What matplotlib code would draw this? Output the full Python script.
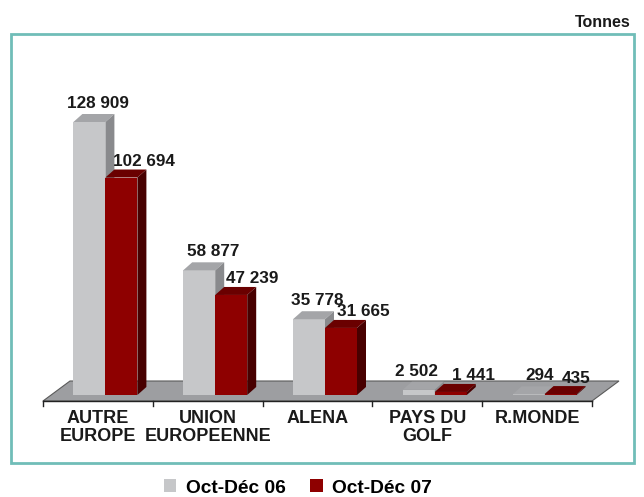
import matplotlib
matplotlib.use('Agg')
import matplotlib.pyplot as plt
from matplotlib.patches import Polygon, Rectangle, Patch
from matplotlib.lines import Line2D

plt.rcParams['font.family'] = ['Liberation Sans', 'DejaVu Sans']
plt.rcParams['font.weight'] = 'bold'

categories = ['AUTRE\nEUROPE', 'UNION\nEUROPEENNE', 'ALENA', 'PAYS DU\nGOLF', 'R.MONDE']
oct_dec_06 = [128909, 58877, 35778, 2502, 294]
oct_dec_07 = [102694, 47239, 31665, 1441, 435]
series_names = ['Oct-Déc 06', 'Oct-Déc 07']
unit = 'Tonnes'

# horizontal nudges of the value labels (pixels), as placed in the original
nudge_06 = [9, 14, 8, -2, 11]
nudge_07 = [23, 21, 22, 23, 16]

def fmt(v):
    return '{:,}'.format(v).replace(',', ' ')

# colours: front, top, side
gray = ('#c6c7c9', '#a4a5a8', '#898a8d')
red = ('#8e0000', '#6a0000', '#480000')
teal = '#70bdb8'
txt = '#1a1a1a'

W, H = 644, 497
fig = plt.figure(figsize=(W / 100, H / 100), dpi=100)

# axes: x -0.5..4.5 -> px 43..592 ; y 0 -> px 395 from top
ymax = 140000
px_per_val = 273 / 128909
ax_h = ymax * px_per_val
ax = fig.add_axes([43 / W, (H - 395) / H, 549 / W, ax_h / H])
ax.set_xlim(-0.5, 4.5)
ax.set_ylim(0, ymax)
ax.axis('off')

px_x = 549 / 5.0
def dxu(px):
    return px / px_x
def dyu(px):
    return px / px_per_val

# floor
fy0 = -dyu(6)
fdx, fdy = dxu(27), dyu(20)
floor = Polygon([(-0.5, fy0), (4.5, fy0), (4.5 + fdx, fy0 + fdy), (-0.5 + fdx, fy0 + fdy)],
                closed=True, facecolor='#9d9ea1', edgecolor='#5a5a5a', linewidth=0.8, clip_on=False)
ax.add_patch(floor)
ax.add_line(Line2D([-0.5, 4.5], [fy0, fy0], color='#222222', linewidth=1.0, clip_on=False))
for k in range(6):
    ax.add_line(Line2D([k - 0.5, k - 0.5], [fy0, fy0 - dyu(5)], color='#222222', linewidth=1.0, clip_on=False))

bw = dxu(32)
shift = dxu(7.5)
ddx, ddy = dxu(9), dyu(8)

def bar3d(x0, v, cols):
    x1 = x0 + bw
    front = Polygon([(x0, 0), (x1, 0), (x1, v), (x0, v)], closed=True, facecolor=cols[0],
                    edgecolor='none', clip_on=False)
    top = Polygon([(x0, v), (x1, v), (x1 + ddx, v + ddy), (x0 + ddx, v + ddy)], closed=True,
                  facecolor=cols[1], edgecolor='none', clip_on=False)
    side = Polygon([(x1, 0), (x1 + ddx, ddy), (x1 + ddx, v + ddy), (x1, v)], closed=True,
                   facecolor=cols[2], edgecolor='none', clip_on=False)
    for p in (front, top, side):
        ax.add_patch(p)

for i in range(len(categories)):
    g0 = i + shift - bw
    r0 = i + shift
    bar3d(g0, oct_dec_06[i], gray)
    bar3d(r0, oct_dec_07[i], red)
    ax.annotate(fmt(oct_dec_06[i]), xy=(g0 + bw / 2, oct_dec_06[i] + ddy),
                xytext=(nudge_06[i] * 0.72, 6 * 0.72),
                textcoords='offset points', ha='center', va='baseline', fontsize=12.3,
                color=txt, fontweight='bold', annotation_clip=False)
    ax.annotate(fmt(oct_dec_07[i]), xy=(r0 + bw / 2, oct_dec_07[i] + ddy),
                xytext=(nudge_07[i] * 0.72, 3.5 * 0.72),
                textcoords='offset points', ha='center', va='baseline', fontsize=12.3,
                color=txt, fontweight='bold', annotation_clip=False)
    ax.annotate(categories[i], xy=(i, fy0), xytext=(0, -9 * 0.72), textcoords='offset points',
                ha='center', va='top', fontsize=13, color=txt, fontweight='bold',
                linespacing=1.05, annotation_clip=False)

# frame
fig.patches.append(Rectangle((11 / W, (H - 463) / H), 623 / W, 429 / H, transform=fig.transFigure,
                             fill=False, edgecolor=teal, linewidth=2.0))
fig.text(631 / W, 1 - 27 / H, unit, ha='right', va='baseline', fontsize=11.5, color=txt,
         fontweight='bold')

handles = [Patch(facecolor=gray[0], edgecolor='none'), Patch(facecolor=red[0], edgecolor='none')]
fig.legend(handles, series_names, loc='center', bbox_to_anchor=(298 / W, 1 - 488 / H), ncol=2,
           frameon=False, handlelength=0.65, handleheight=0.65, handletextpad=0.5,
           columnspacing=1.3, prop={'weight': 'bold', 'size': 13.8})

fig.savefig('out.png', dpi=100)
